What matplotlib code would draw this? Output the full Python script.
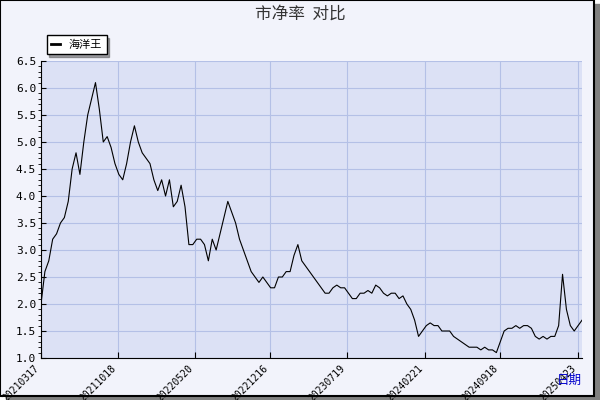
import matplotlib
matplotlib.use("Agg")
import matplotlib.pyplot as plt
import pandas as pd
from matplotlib.ticker import MultipleLocator

plt.rcParams['font.family'] = ['Noto Sans CJK SC', 'DejaVu Sans']

series_name = "海洋王"
title = "市净率  对比"
values = [2.0, 2.6, 2.8, 3.2, 3.3, 3.5, 3.6, 3.9, 4.5, 4.8, 4.4, 5.0, 5.5, 5.8, 6.1, 5.6, 5.0, 5.1,
          4.9, 4.6, 4.4, 4.3, 4.6, 5.0, 5.3, 5.0, 4.8, 4.7, 4.6, 4.3, 4.1, 4.3, 4.0, 4.3, 3.8, 3.9,
          4.2, 3.8, 3.1, 3.1, 3.2, 3.2, 3.1, 2.8, 3.2, 3.0, 3.3, 3.6, 3.9, 3.7, 3.5, 3.2, 3.0, 2.8,
          2.6, 2.5, 2.4, 2.5, 2.4, 2.3, 2.3, 2.5, 2.5, 2.6, 2.6, 2.9, 3.1, 2.8, 2.7, 2.6, 2.5, 2.4,
          2.3, 2.2, 2.2, 2.3, 2.35, 2.3, 2.3, 2.2, 2.1, 2.1, 2.2, 2.2, 2.25, 2.2, 2.35, 2.3, 2.2,
          2.15, 2.2, 2.2, 2.1, 2.15, 2.0, 1.9, 1.7, 1.4, 1.5, 1.6, 1.65, 1.6, 1.6, 1.5, 1.5, 1.5,
          1.4, 1.35, 1.3, 1.25, 1.2, 1.2, 1.2, 1.15, 1.2, 1.15, 1.15, 1.1, 1.3, 1.5, 1.55, 1.55,
          1.6, 1.55, 1.6, 1.6, 1.55, 1.4, 1.35, 1.4, 1.35, 1.4, 1.4, 1.6, 2.55, 1.9, 1.6, 1.5, 1.6, 1.7]
start_date = "2021-03-17"
end_date = "2025-05-05"
tick_labels = ["20210317", "20211018", "20220520", "20221216", "20230719", "20240221", "20240918", "20250423"]

dates = pd.date_range(start_date, end_date, periods=len(values))

fig = plt.figure(figsize=(6, 4), dpi=100)
fig.patch.set_facecolor("white")
fig.patches.append(plt.Rectangle((0.01, 0.0), 0.99, 0.99, transform=fig.transFigure, color="#808080", zorder=-2))
fig.patches.append(plt.Rectangle((0.0, 0.01), 0.99, 0.99, transform=fig.transFigure, facecolor="#f2f3fb", edgecolor="black", lw=1.5, zorder=-1))

ax = fig.add_axes([41/600, 1-358/400, 541/600, 297/400])
ax.set_facecolor("#dce1f5")
ax.plot(dates, values, color="black", lw=0.8)
ax.set_ylim(1.0, 6.5)
ax.set_xlim(pd.Timestamp(start_date), pd.Timestamp(end_date))
ax.yaxis.set_major_locator(MultipleLocator(0.5))
ax.yaxis.set_minor_locator(MultipleLocator(0.1))
ax.yaxis.set_major_formatter(matplotlib.ticker.FormatStrFormatter("%.1f"))
for lbl in ax.get_yticklabels():
    lbl.set_family("DejaVu Sans Mono")
ticks = pd.to_datetime(tick_labels, format="%Y%m%d")
ax.set_xticks(ticks)
ax.set_xticklabels(tick_labels, rotation=45, ha="right", fontsize=7, family="DejaVu Sans Mono")
ax.tick_params(axis="y", labelsize=8, direction="in")
ax.tick_params(axis="x", direction="in", length=4)
ax.grid(True, color="#b4c0e6", lw=0.8)
for s in ["top", "right"]:
    ax.spines[s].set_visible(False)

fig.text(0.5, 0.965, title, ha="center", va="center", fontsize=12, color="#333333")
fig.text(582/600, 1-380/400, "日期", ha="right", va="center", fontsize=9, color="#0000cc")

leg = ax.legend([series_name], loc="lower left", bbox_to_anchor=(-0.0, 1.005), frameon=True,
                fancybox=False, shadow=True, fontsize=8, handlelength=0.8, borderpad=0.4)
leg.get_frame().set_edgecolor("black")
leg.get_frame().set_facecolor("white")
for h in leg.get_lines():
    h.set_linewidth(2)

fig.savefig("out.png", dpi=100)
